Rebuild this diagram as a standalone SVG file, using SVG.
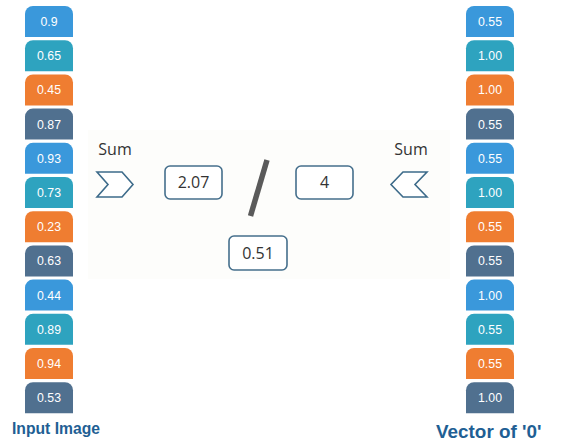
<svg xmlns="http://www.w3.org/2000/svg" width="587" height="444" viewBox="0 0 587 444">
<style>
.c1{fill:#3a98db}.c2{fill:#2ea3bf}.c3{fill:#ef7d31}.c4{fill:#50708f}
.ct{fill:#fff;font-family:"Liberation Sans",Arial,sans-serif;font-size:12.3px;text-anchor:middle}
.bx{fill:#fff;stroke:#456f8c;stroke-width:1.6}
.bt{fill:#333;font-family:"Open Sans","Noto Sans",sans-serif;font-size:16px;text-anchor:middle}
.lb{fill:#1f5f94;font-family:"Liberation Sans",Arial,sans-serif;font-weight:bold;text-anchor:start}
.chev{fill:#fff;stroke:#3d6b8a;stroke-width:1.6;stroke-linejoin:miter}
</style>
<defs>
<path id="cell" d="M0,31 V8 A8,8 0 0 1 8,0 H40 A8,8 0 0 1 48,8 V31 Z"/>
</defs>
<rect x="88" y="130" width="362" height="149" fill="#fdfdfb"/>
<g id="left-column">
<g id="l0"><use href="#cell" x="25" y="6" class="c1"/><text class="ct" x="49" y="26">0.9</text></g>
<g id="l1"><use href="#cell" x="25" y="40.2" class="c2"/><text class="ct" x="49" y="60.2">0.65</text></g>
<g id="l2"><use href="#cell" x="25" y="74.4" class="c3"/><text class="ct" x="49" y="94.4">0.45</text></g>
<g id="l3"><use href="#cell" x="25" y="108.6" class="c4"/><text class="ct" x="49" y="128.6">0.87</text></g>
<g id="l4"><use href="#cell" x="25" y="142.8" class="c1"/><text class="ct" x="49" y="162.8">0.93</text></g>
<g id="l5"><use href="#cell" x="25" y="177" class="c2"/><text class="ct" x="49" y="197">0.73</text></g>
<g id="l6"><use href="#cell" x="25" y="211.2" class="c3"/><text class="ct" x="49" y="231.2">0.23</text></g>
<g id="l7"><use href="#cell" x="25" y="245.4" class="c4"/><text class="ct" x="49" y="265.4">0.63</text></g>
<g id="l8"><use href="#cell" x="25" y="279.6" class="c1"/><text class="ct" x="49" y="299.6">0.44</text></g>
<g id="l9"><use href="#cell" x="25" y="313.8" class="c2"/><text class="ct" x="49" y="333.8">0.89</text></g>
<g id="l10"><use href="#cell" x="25" y="348" class="c3"/><text class="ct" x="49" y="368">0.94</text></g>
<g id="l11"><use href="#cell" x="25" y="382.2" class="c4"/><text class="ct" x="49" y="402.2">0.53</text></g>
</g>
<g id="right-column">
<g id="r0"><use href="#cell" x="466" y="6" class="c1"/><text class="ct" x="490" y="26">0.55</text></g>
<g id="r1"><use href="#cell" x="466" y="40.2" class="c2"/><text class="ct" x="490" y="60.2">1.00</text></g>
<g id="r2"><use href="#cell" x="466" y="74.4" class="c3"/><text class="ct" x="490" y="94.4">1.00</text></g>
<g id="r3"><use href="#cell" x="466" y="108.6" class="c4"/><text class="ct" x="490" y="128.6">0.55</text></g>
<g id="r4"><use href="#cell" x="466" y="142.8" class="c1"/><text class="ct" x="490" y="162.8">0.55</text></g>
<g id="r5"><use href="#cell" x="466" y="177" class="c2"/><text class="ct" x="490" y="197">1.00</text></g>
<g id="r6"><use href="#cell" x="466" y="211.2" class="c3"/><text class="ct" x="490" y="231.2">0.55</text></g>
<g id="r7"><use href="#cell" x="466" y="245.4" class="c4"/><text class="ct" x="490" y="265.4">0.55</text></g>
<g id="r8"><use href="#cell" x="466" y="279.6" class="c1"/><text class="ct" x="490" y="299.6">1.00</text></g>
<g id="r9"><use href="#cell" x="466" y="313.8" class="c2"/><text class="ct" x="490" y="333.8">0.55</text></g>
<g id="r10"><use href="#cell" x="466" y="348" class="c3"/><text class="ct" x="490" y="368">0.55</text></g>
<g id="r11"><use href="#cell" x="466" y="382.2" class="c4"/><text class="ct" x="490" y="402.2">1.00</text></g>
</g>
<g id="sum-left">
<text class="bt" x="115" y="155">Sum</text>
<polygon class="chev" points="97,172 122,172 133,184.5 122,197 97,197 108,184.5"/>
</g>
<g id="sum-right">
<text class="bt" x="411" y="155">Sum</text>
<polygon class="chev" points="403,172 427,172 415,184.5 427,197 403,197 391,184.5"/>
</g>
<g id="numerator"><rect class="bx" x="165" y="166" width="57" height="33" rx="5"/><text class="bt" x="193.5" y="188.3">2.07</text></g>
<g id="denominator"><rect class="bx" x="296" y="166" width="57" height="33" rx="5"/><text class="bt" x="324.5" y="188.3">4</text></g>
<g id="result"><rect class="bx" x="229" y="236" width="58" height="34" rx="5"/><text class="bt" x="258" y="258.8">0.51</text></g>
<g id="connectors">
<line x1="267" y1="160" x2="250.5" y2="216" stroke="#5a5a5a" stroke-width="5.5"/>
</g>
<text class="lb" x="12" y="434" font-size="15.7">Input Image</text>
<text class="lb" x="436" y="438" font-size="18.9">Vector of '0'</text>
</svg>
